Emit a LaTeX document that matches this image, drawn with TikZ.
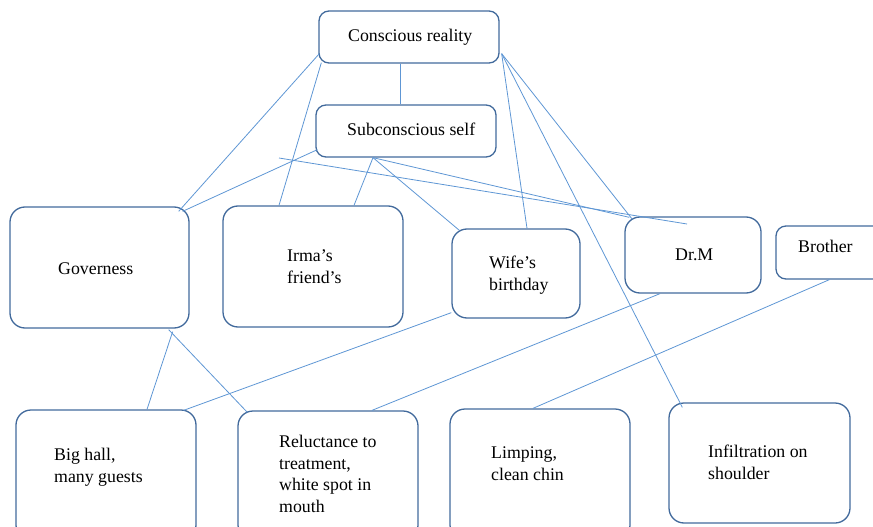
\documentclass[tikz,border=0pt]{standalone}
\usepackage{fontspec}
\setmainfont{Liberation Serif}
\usetikzlibrary{calc}
\definecolor{boxblue}{RGB}{66,106,156}
\definecolor{linkblue}{RGB}{94,150,212}
\tikzset{
  box/.style={draw=boxblue, line width=1.3pt, rounded corners=15pt, inner sep=0pt},
  smallbox/.style={box, rounded corners=10pt},
  lbl/.style={inner sep=0pt, anchor=base west, align=left,
    font=\fontsize{17.8}{21.5}\selectfont},
  link/.style={draw=linkblue, line width=0.8pt}
}
\begin{document}
\begin{tikzpicture}[x=1pt, y=-1pt, line join=round]
\useasboundingbox (0,0) rectangle (873,527);
\clip (0,0) rectangle (873,527);
% top: the two selves
\node[smallbox, minimum width=180pt, minimum height=52pt] (cr) at (409,37) {};
\node[smallbox, minimum width=180pt, minimum height=52pt] (ss) at (406,131) {};
\node[lbl] (crt) at (348,42) {Conscious reality};
\node[lbl] (sst) at (347,135) {Subconscious self};
% middle row
\node[box, minimum width=179pt, minimum height=121pt] (gov) at (99.5,267.5) {};
\node[box, minimum width=180pt, minimum height=121pt] (irma) at (313,266.5) {};
\node[box, minimum width=128pt, minimum height=89pt] (wife) at (516,273.5) {};
\node[box, minimum width=136pt, minimum height=76pt] (drm) at (693,255) {};
\node[smallbox, minimum width=124pt, minimum height=53pt] (bro) at (838,252.5) {};
\node[lbl] (govt) at (58,274) {Governess};
\node[lbl] (irmat) at (287,283) {Irma’s\\friend’s};
\node[lbl] (wifet) at (489,290) {Wife’s\\birthday};
\node[lbl] (drmt) at (675,260) {Dr.M};
\node[lbl] (brot) at (798,252) {Brother};
% bottom row
\node[box, minimum width=180pt, minimum height=130pt] (big) at (106,475) {};
\node[box, minimum width=180pt, minimum height=129pt] (rel) at (328,475.5) {};
\node[box, minimum width=180pt, minimum height=131pt] (limp) at (540,474.5) {};
\node[box, minimum width=181pt, minimum height=120pt] (inf) at (759.5,463) {};
\node[lbl] (bigt) at (54,482) {Big hall,\\many guests};
\node[lbl] (relt) at (279,512) {Reluctance to\\treatment,\\white spot in\\mouth};
\node[lbl] (limpt) at (491,480) {Limping,\\clean chin};
\node[lbl] (inft) at (708,479) {Infiltration on\\shoulder};
% links from the top
\draw[link] ([shift={(-9,0)}]cr.south) -- ([shift={(-6,0)}]ss.north);
\draw[link] ([shift={(1,-10)}]cr.south west) -- ([shift={(-11,5)}]gov.north east);
\draw[link] ([shift={(3,-1)}]cr.south west) -- ([shift={(-34,0)}]irma.north);
\draw[link] ([shift={(2,-10)}]cr.south east) -- ([shift={(11,0)}]wife.north);
\draw[link] ([shift={(2,-10)}]cr.south east) -- ([shift={(14,5)}]inf.north west);
\draw[link] ([shift={(2,-10)}]cr.south east) -- ([shift={(8,3)}]drm.north west);
\draw[link] ([shift={(2,-8)}]ss.south west) -- ([shift={(-7,5)}]gov.north east);
\draw[link] ([shift={(-33,0)}]ss.south) -- ([shift={(41,0)}]irma.north);
\draw[link] ([shift={(-33,0)}]ss.south) -- ([shift={(8,2)}]wife.north west);
\draw[link] ([shift={(-33,0)}]ss.south) -- ([shift={(5,1)}]drm.north west);
\coordinate (xa) at (279,158);
\coordinate (xb) at (687,224);
\draw[link] (xa) -- (xb);
% links down to the bottom row
\draw[link] ([shift={(-33,0)}]drm.south) -- ([shift={(44,0)}]rel.north);
\draw[link] ([shift={(54,0)}]bro.south west) -- ([shift={(-7,0)}]limp.north);
\draw[link] ([shift={(0,-6)}]wife.south west) -- ([shift={(-13,1)}]big.north east);
\draw[link] ([shift={(-17,3)}]gov.south east) -- ([shift={(41,0)}]big.north);
\draw[link] ([shift={(-21,1)}]gov.south east) -- ([shift={(10,2)}]rel.north west);
\end{tikzpicture}
\end{document}
